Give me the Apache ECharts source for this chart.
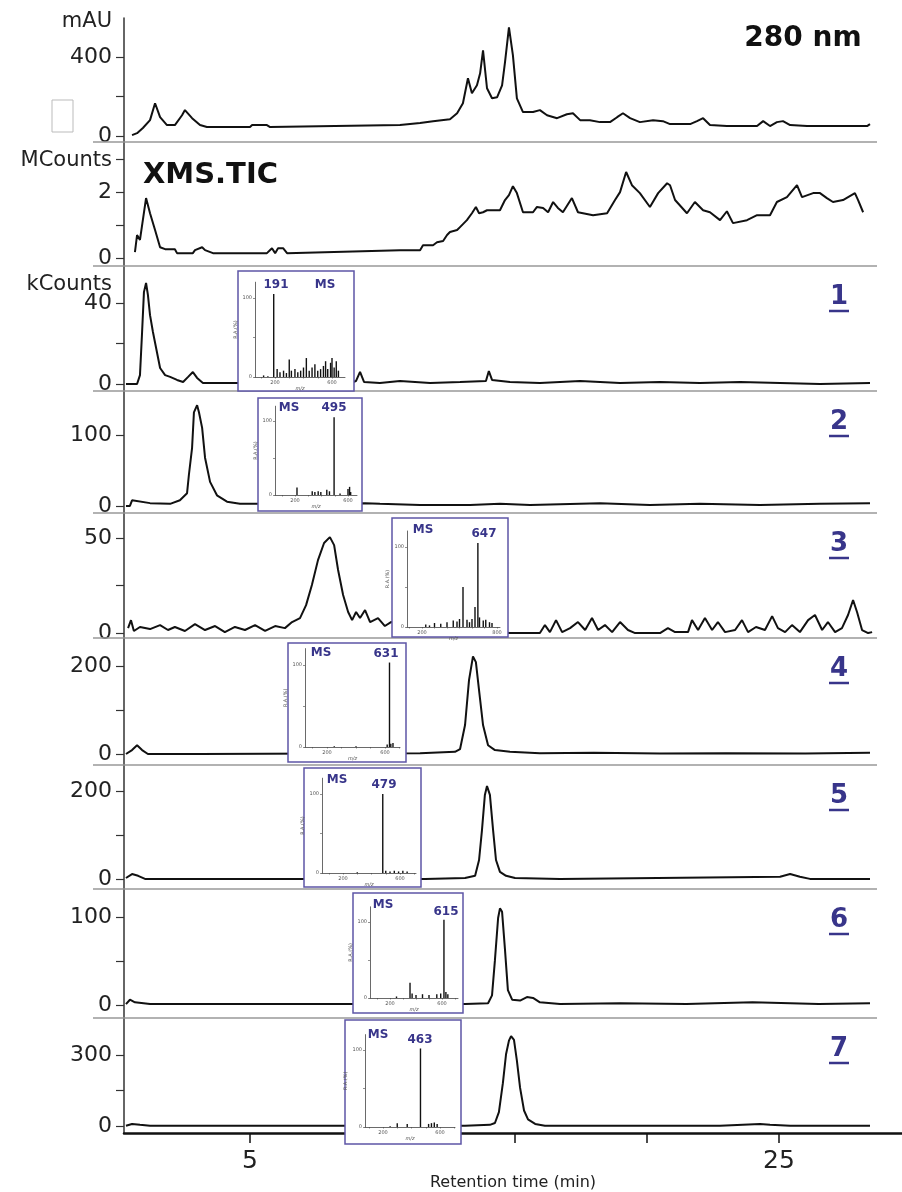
<!DOCTYPE html>
<html>
<head>
<meta charset="utf-8">
<script src="https://cdn.jsdelivr.net/npm/echarts@6/dist/echarts.min.js"></script>
<style>
  html, body { margin: 0; padding: 0; background: #fff; }
  #chart { width: 902px; height: 1192px; }
</style>
</head>
<body>
<div id="chart"></div>
<script>
// retention time axis (min)
const timeTicks = [5, 10, 15, 20, 25]
const timeLabels = [5, 25]

// chromatograms, [retention time (min), intensity]
const uv280 = [[0.54,5],[0.73,15],[0.95,41],[1.22,81],[1.41,167],[1.60,96],[1.86,56],[2.16,56],[2.43,106],[2.54,132],[2.81,91],[3.11,56],[3.37,46],[5.0,46],[5.08,56],[5.64,56],[5.76,46],[10.67,56],[11.43,66],[11.92,76],[12.56,86],[12.83,116],[13.05,167],[13.24,294],[13.39,218],[13.58,258],[13.70,319],[13.81,435],[13.96,243],[14.15,192],[14.34,197],[14.53,258],[14.64,375],[14.79,552],[14.94,410],[15.09,192],[15.32,122],[15.70,122],[15.96,132],[16.23,106],[16.61,91],[16.98,111],[17.21,116],[17.48,81],[17.85,81],[18.23,71],[18.61,71],[18.88,96],[19.10,116],[19.37,91],[19.74,71],[20.24,81],[20.61,76],[20.88,61],[21.64,61],[21.90,76],[22.13,91],[22.39,56],[23.03,51],[24.17,51],[24.40,76],[24.66,51],[24.92,71],[25.15,76],[25.42,56],[26.06,51],[28.33,51],[28.44,61]]
const tic = [[0.65,0.18],[0.73,0.70],[0.84,0.55],[1.07,1.82],[1.22,1.36],[1.41,0.85],[1.60,0.33],[1.79,0.27],[2.16,0.27],[2.24,0.15],[2.84,0.15],[2.92,0.24],[3.19,0.33],[3.30,0.24],[3.60,0.15],[5.64,0.15],[5.83,0.30],[5.95,0.15],[6.06,0.30],[6.25,0.30],[6.40,0.15],[10.67,0.24],[11.43,0.24],[11.54,0.39],[11.92,0.39],[12.07,0.48],[12.30,0.52],[12.45,0.70],[12.56,0.79],[12.83,0.85],[12.94,0.94],[13.20,1.15],[13.39,1.36],[13.54,1.55],[13.66,1.36],[13.81,1.39],[13.96,1.45],[14.45,1.45],[14.64,1.76],[14.79,1.91],[14.94,2.18],[15.09,1.97],[15.32,1.39],[15.70,1.39],[15.85,1.55],[16.08,1.52],[16.27,1.39],[16.46,1.70],[16.64,1.52],[16.83,1.39],[17.17,1.82],[17.40,1.39],[17.97,1.30],[18.50,1.36],[18.80,1.76],[18.99,2.00],[19.22,2.61],[19.44,2.21],[19.74,1.97],[20.12,1.55],[20.43,1.97],[20.77,2.27],[20.88,2.21],[21.07,1.76],[21.52,1.36],[21.82,1.70],[22.13,1.45],[22.39,1.39],[22.77,1.15],[23.03,1.42],[23.26,1.06],[23.79,1.15],[24.17,1.30],[24.66,1.30],[24.92,1.70],[25.30,1.85],[25.68,2.21],[25.87,1.85],[26.29,1.97],[26.55,1.97],[26.81,1.82],[27.04,1.70],[27.42,1.76],[27.87,1.97],[27.99,1.76],[28.18,1.39]]
const eic1 = [[0.31,0],[0.73,0],[0.84,4.4],[0.92,25.7],[0.99,45.4],[1.07,49.9],[1.14,44],[1.22,34],[1.33,25.7],[1.48,15.8],[1.60,7.9],[1.79,4.4],[1.98,3.5],[2.24,2],[2.47,1],[2.66,3.5],[2.84,5.9],[3.0,3],[3.22,0.5],[3.75,0.5],[4.36,0.5],[4.62,0.5],[6.89,1],[8.78,0.5],[9.01,1.5],[9.16,6],[9.31,1],[9.91,0.5],[10.67,1.5],[11.81,0.5],[12.94,1],[13.92,1.5],[14.03,6.4],[14.15,2],[14.83,1],[15.96,0.5],[17.48,1.5],[18.99,0.5],[20.50,1],[22.01,0.5],[23.53,1],[25.04,0.5],[26.55,0],[28.44,0.5]]
const eic2 = [[0.31,0],[0.46,0],[0.54,8],[0.58,6],[1.22,4],[1.98,3],[2.35,8],[2.62,18],[2.69,44],[2.81,82],[2.88,132],[3.0,142],[3.07,132],[3.19,110],[3.30,68],[3.49,34],[3.75,15],[4.13,6],[4.62,3],[5.26,3],[7.0,2],[9.35,4],[9.91,3],[11.43,1.4],[13.32,1.4],[14.45,3],[15.59,1.4],[18.23,4],[20.12,1.4],[22.01,3],[24.28,1.4],[26.55,3],[28.44,4]]
const eic3 = [[0.39,2.6],[0.50,6.8],[0.61,1.1],[0.84,3.2],[1.22,2.1],[1.60,4.2],[1.90,1.6],[2.16,3.2],[2.54,1.1],[2.92,4.7],[3.30,1.6],[3.68,3.7],[4.05,0.5],[4.43,3.2],[4.81,1.6],[5.19,4.2],[5.57,1.1],[5.95,3.7],[6.32,2.6],[6.59,5.8],[6.89,7.9],[7.12,14.7],[7.34,25.3],[7.57,38.4],[7.80,47.4],[8.02,50.5],[8.18,46.3],[8.33,33.2],[8.52,20],[8.71,11.1],[8.86,6.8],[9.01,11.1],[9.16,7.9],[9.35,12.1],[9.54,5.8],[9.84,7.9],[10.10,3.7],[10.33,5.8],[12.5,2],[14.83,0],[15.96,0],[16.15,4.2],[16.34,0.5],[16.57,6.8],[16.80,0.5],[17.10,2.6],[17.40,5.8],[17.67,1.6],[17.93,7.9],[18.16,1.6],[18.42,4.2],[18.69,0.5],[18.99,5.8],[19.29,1.6],[19.56,0],[20.50,0],[20.80,2.6],[21.07,0.5],[21.56,0.5],[21.71,6.8],[21.94,1.6],[22.20,7.9],[22.47,1.6],[22.69,5.8],[22.96,0.5],[23.34,1.6],[23.60,6.8],[23.83,0.5],[24.13,3.2],[24.47,1.6],[24.74,8.9],[24.96,2.6],[25.23,0.5],[25.49,4.2],[25.79,0.5],[26.10,6.8],[26.36,9.5],[26.63,1.6],[26.85,5.8],[27.12,0.5],[27.38,2.6],[27.61,9.5],[27.80,17.4],[27.95,11.1],[28.14,1.6],[28.37,0],[28.52,0.5]]
const eic4 = [[0.31,0],[0.54,9],[0.73,20],[0.92,9],[1.14,0],[3.11,0],[8.0,1],[11.43,2],[12.75,5],[12.94,11],[13.13,66],[13.28,168],[13.43,222],[13.54,209],[13.66,145],[13.81,66],[14.0,20],[14.26,9],[14.83,5],[15.96,2],[18.0,3],[20.5,1],[23.0,2],[26.0,1],[28.44,3]]
const eic5 = [[0.31,2],[0.54,11],[0.77,7],[1.03,0],[6.89,0],[11.62,0],[13.13,2],[13.51,7],[13.66,43],[13.77,111],[13.88,191],[13.96,211],[14.07,191],[14.19,111],[14.30,43],[14.45,16],[14.68,7],[15.02,2],[16.72,0],[25.04,5],[25.42,11],[25.79,5],[26.17,0],[28.44,0]]
const eic6 = [[0.31,1],[0.46,6],[0.65,3],[1.22,1],[8.78,1],[13.13,1],[14.0,2],[14.15,11],[14.26,51],[14.38,99],[14.45,110],[14.53,106],[14.64,63],[14.75,17],[14.91,6],[15.21,5],[15.47,9],[15.70,8],[15.96,3],[16.72,1],[19.0,2],[21.5,1],[24.0,3],[26.5,1],[28.44,2]]
const eic7 = [[0.31,0],[0.54,8],[0.84,4],[1.22,0],[8.40,0],[13.13,0],[14.07,4],[14.26,12],[14.41,58],[14.56,181],[14.68,304],[14.79,362],[14.87,381],[14.98,365],[15.09,277],[15.21,162],[15.36,65],[15.51,27],[15.78,8],[16.15,0],[22.77,0],[24.28,8],[24.66,4],[25.42,0],[28.44,0]]

// MS spectra in the insets, [m/z, relative abundance %]
const ms191 = [[120,2],[150,1],[191,105],[215,10],[235,6],[260,8],[280,5],[300,22],[315,8],[340,10],[360,6],[380,8],[400,12],[420,24],[440,8],[460,12],[480,16],[500,8],[520,10],[540,14],[555,20],[570,10],[590,18],[600,24],[615,12],[630,20],[645,8]]
const ms495 = [[215,10],[330,5],[350,4],[375,5],[395,4],[440,7],[460,5],[495,105],[540,2],[600,8],[612,11],[620,4]]
const ms647 = [[230,3],[260,2],[300,5],[350,4],[400,6],[450,8],[480,7],[500,10],[528,50],[560,9],[580,6],[600,10],[624,25],[647,105],[660,12],[690,8],[710,9],[740,6],[760,5]]
const ms631 = [[250,1],[400,1],[615,3],[631,103],[640,4],[655,5]]
const ms479 = [[300,1],[479,100],[500,3],[530,2],[560,3],[590,2],[620,3],[650,2]]
const ms615 = [[250,2],[354,20],[370,6],[400,4],[450,5],[500,4],[560,5],[590,6],[615,103],[630,8],[645,5]]
const ms463 = [[250,1],[300,5],[370,4],[463,102],[520,4],[540,5],[560,6],[580,4]]

// panel layout (pixels) and y scales
const panels = [
  { unit: 'mAU', data: uv280, top: 18, bottom: 142, min: -30, max: 600, ticks: [0, 200, 400], labels: [0, 400] },
  { unit: 'MCounts', data: tic, top: 142, bottom: 266, min: -0.24, max: 3.52, ticks: [0, 1, 2, 3], labels: [0, 2] },
  { unit: 'kCounts', data: eic1, top: 266, bottom: 391, min: -3.46, max: 58.3, ticks: [0, 20, 40], labels: [0, 40], tag: '1' },
  { data: eic2, top: 391, bottom: 513, min: -9.9, max: 162, ticks: [0, 100], labels: [0, 100], tag: '2' },
  { data: eic3, top: 513, bottom: 638, min: -2.6, max: 63.2, ticks: [0, 25, 50], labels: [0, 50], tag: '3' },
  { data: eic4, top: 638, bottom: 765, min: -25, max: 264, ticks: [0, 100, 200], labels: [0, 200], tag: '4' },
  { data: eic5, top: 765, bottom: 889, min: -23, max: 259, ticks: [0, 100, 200], labels: [0, 200], tag: '5' },
  { data: eic6, top: 889, bottom: 1018, min: -14.8, max: 132, ticks: [0, 50, 100], labels: [0, 100], tag: '6' },
  { data: eic7, top: 1018, bottom: 1145, min: -31, max: 458, ticks: [0, 150, 300], labels: [0, 300], tag: '7' },
]

const insets = [
  { data: ms191, box: [238, 271, 116, 120], axisX: 255, zeroY: 377, pxPerPct: 0.79, at200: 275, pxPerMz: 0.1425, right: 345, mzLabels: [200, 600], ion: '191', ionAt: [276, 285], msAt: [325, 285] },
  { data: ms495, box: [258, 398, 104, 113], axisX: 275, zeroY: 495, pxPerPct: 0.74, at200: 295, pxPerMz: 0.1325, right: 357, mzLabels: [200, 600], ion: '495', ionAt: [334, 408], msAt: [289, 408] },
  { data: ms647, box: [392, 518, 116, 119], axisX: 407, zeroY: 627, pxPerPct: 0.80, at200: 422, pxPerMz: 0.125, right: 500, mzLabels: [200, 800], ion: '647', ionAt: [484, 534], msAt: [423, 530] },
  { data: ms631, box: [288, 643, 118, 119], axisX: 305, zeroY: 747, pxPerPct: 0.82, at200: 327, pxPerMz: 0.145, right: 400, mzLabels: [200, 600], ion: '631', ionAt: [386, 654], msAt: [321, 653] },
  { data: ms479, box: [304, 768, 117, 119], axisX: 322, zeroY: 873, pxPerPct: 0.79, at200: 343, pxPerMz: 0.1425, right: 416, mzLabels: [200, 600], ion: '479', ionAt: [384, 785], msAt: [337, 780] },
  { data: ms615, box: [353, 893, 110, 120], axisX: 370, zeroY: 998, pxPerPct: 0.76, at200: 390, pxPerMz: 0.13, right: 458, mzLabels: [200, 600], ion: '615', ionAt: [446, 912], msAt: [383, 905] },
  { data: ms463, box: [345, 1020, 116, 124], axisX: 365, zeroY: 1127, pxPerPct: 0.77, at200: 383, pxPerMz: 0.1425, right: 455, mzLabels: [200, 600], ion: '463', ionAt: [420, 1040], msAt: [378, 1035] },
]

const FONT = 'DejaVu Sans'
const T_MIN = 0.236, T_MAX = 29.65
const INK = '#222'
const PURPLE = '#5e56a6'
const NAVY = '#38358a'

const grid = [], xAxis = [], yAxis = [], series = [], graphic = []

panels.forEach((p, i) => {
  const last = i === panels.length - 1
  grid.push({ left: 124, right: 0, top: p.top, height: p.bottom - p.top })
  xAxis.push({
    gridIndex: i, type: 'value', min: T_MIN, max: T_MAX, show: last,
    axisLine: { show: true, onZero: false, lineStyle: { color: '#111', width: 2.5 } },
    axisTick: { customValues: timeTicks, length: 10, lineStyle: { color: '#111', width: 1.5 } },
    axisLabel: { customValues: timeLabels, margin: 16, fontSize: 25, fontFamily: FONT, color: INK },
    splitLine: { show: false },
    name: 'Retention time (min)', nameLocation: 'middle', nameGap: 27,
    nameTextStyle: { fontSize: 16, fontFamily: FONT, color: INK },
  })
  yAxis.push({
    gridIndex: i, type: 'value', min: p.min, max: p.max,
    axisLine: { show: true, lineStyle: { color: '#333', width: 1.5 } },
    axisTick: { show: true, customValues: p.ticks, length: 8, lineStyle: { color: '#333', width: 1.2 } },
    axisLabel: { customValues: p.labels, margin: 12, fontSize: 22, fontFamily: FONT, color: INK },
    splitLine: { show: false },
  })
  series.push({
    type: 'line', xAxisIndex: i, yAxisIndex: i, data: p.data,
    showSymbol: false, lineStyle: { color: '#111', width: 2 }, z: 2,
  })
  if (!last) {
    graphic.push({ type: 'line', shape: { x1: 93, y1: p.bottom, x2: 877, y2: p.bottom }, style: { stroke: '#999', lineWidth: 1.5 }, z: 1 })
  }
  if (p.unit) {
    graphic.push({ type: 'text', x: 112, y: p.top + (i === 0 ? 4 : 19), style: { text: p.unit, font: '21px "DejaVu Sans"', fill: INK, textAlign: 'right', textVerticalAlign: 'middle' }, z: 5 })
  }
  if (p.tag) {
    graphic.push({ type: 'text', x: 839, y: p.top + 31, style: { text: p.tag, font: 'bold 26px "DejaVu Sans"', fill: NAVY, textAlign: 'center', textVerticalAlign: 'middle' }, z: 5 })
    graphic.push({ type: 'line', shape: { x1: 829, y1: p.top + 45, x2: 849, y2: p.top + 45 }, style: { stroke: NAVY, lineWidth: 2.5 }, z: 5 })
  }
})

// MS insets: white framed boxes with their own small axes
insets.forEach((s, k) => {
  const gi = panels.length + k
  const h = 120 * s.pxPerPct
  const w = s.right - s.axisX
  const mzMin = 200 - (s.at200 - s.axisX) / s.pxPerMz
  const mzMax = mzMin + w / s.pxPerMz
  const mzTicks = []
  for (let m = 100; m < mzMax; m += 100) if (m > mzMin) mzTicks.push(m)
  const small = { fontSize: 5, fontFamily: FONT, color: '#555' }

  grid.push({ left: s.axisX, top: s.zeroY - h, width: w, height: h })
  xAxis.push({
    gridIndex: gi, type: 'value', min: mzMin, max: mzMax, z: 11,
    axisLine: { show: true, onZero: false, lineStyle: { color: '#444', width: 0.8 } },
    axisTick: { customValues: mzTicks, length: 1.5, lineStyle: { color: '#444', width: 0.6 } },
    axisLabel: { customValues: s.mzLabels, margin: 3, ...small },
    splitLine: { show: false },
    name: 'm/z', nameLocation: 'middle', nameGap: 5,
    nameTextStyle: { ...small, fontStyle: 'italic' },
  })
  yAxis.push({
    gridIndex: gi, type: 'value', min: 0, max: 120, z: 11,
    axisLine: { show: true, lineStyle: { color: '#444', width: 0.8 } },
    axisTick: { customValues: [0, 50, 100], length: 2, lineStyle: { color: '#444', width: 0.6 } },
    axisLabel: { customValues: [0, 100], margin: 3, ...small },
    splitLine: { show: false },
    name: 'R.A.(%)', nameLocation: 'middle', nameGap: 11, nameRotate: 90,
    nameTextStyle: small,
  })
  series.push({
    type: 'bar', xAxisIndex: gi, yAxisIndex: gi, data: s.data,
    barWidth: 1.4, itemStyle: { color: '#111' }, z: 12,
  })
  graphic.push({
    type: 'rect', shape: { x: s.box[0], y: s.box[1], width: s.box[2], height: s.box[3] },
    style: { fill: '#fff', stroke: PURPLE, lineWidth: 1.5 }, z: 10,
  })
  graphic.push({ type: 'text', x: s.msAt[0], y: s.msAt[1], style: { text: 'MS', font: 'bold 12px "DejaVu Sans"', fill: NAVY, textAlign: 'center', textVerticalAlign: 'middle' }, z: 13 })
  graphic.push({ type: 'text', x: s.ionAt[0], y: s.ionAt[1], style: { text: s.ion, font: 'bold 12px "DejaVu Sans"', fill: NAVY, textAlign: 'center', textVerticalAlign: 'middle' }, z: 13 })
})

// titles and the stray empty box left of the UV trace
graphic.push({ type: 'text', x: 803, y: 39, style: { text: '280 nm', font: 'bold 28px "DejaVu Sans"', fill: '#111', textAlign: 'center', textVerticalAlign: 'middle' }, z: 5 })
graphic.push({ type: 'text', x: 143, y: 175, style: { text: 'XMS.TIC', font: 'bold 29px "DejaVu Sans"', fill: '#111', textAlign: 'left', textVerticalAlign: 'middle' }, z: 5 })
graphic.push({ type: 'rect', shape: { x: 52, y: 100, width: 21, height: 32 }, style: { fill: 'none', stroke: '#bbb', lineWidth: 1 }, z: 5 })

const chart = echarts.init(document.getElementById('chart'))
chart.setOption({
  backgroundColor: '#fff',
  animation: false,
  grid, xAxis, yAxis, series, graphic,
})
</script>
</body>
</html>
